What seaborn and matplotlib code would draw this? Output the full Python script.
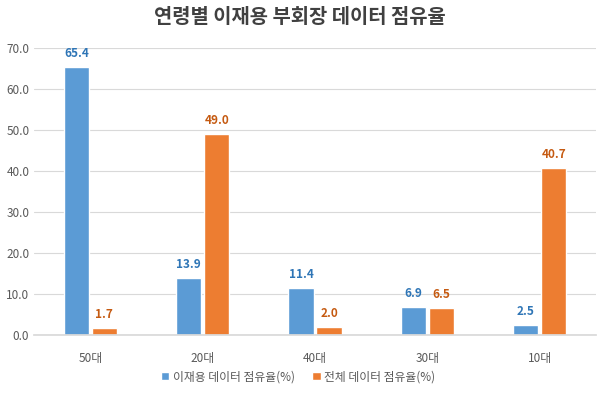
import matplotlib
matplotlib.use("Agg")
import matplotlib.pyplot as plt
import seaborn as sns
import pandas as pd
from matplotlib.ticker import FormatStrFormatter

categories = ["50대", "20대", "40대", "30대", "10대"]
series_names = ["이재용 데이터 점유율(%)", "전체 데이터 점유율(%)"]
lee_values = [65.4, 13.9, 11.4, 6.9, 2.5]
all_values = [1.7, 49.0, 2.0, 6.5, 40.7]
title = "연령별 이재용 부회장 데이터 점유율"

df = pd.DataFrame({
    "age": categories * 2,
    "series": [series_names[0]] * 5 + [series_names[1]] * 5,
    "value": lee_values + all_values,
})

sns.set_theme(style="white")
plt.rcParams["font.family"] = ["Noto Sans CJK KR", "DejaVu Sans"]

bar_colors = ["#5B9BD5", "#ED7D31"]
label_colors = ["#2E75B6", "#C55A11"]

fig = plt.figure(figsize=(6, 3.97), dpi=100)
ax = fig.add_axes([0.057, 0.156, 0.936, 0.723])
sns.barplot(data=df, x="age", y="value", hue="series", order=categories,
            hue_order=series_names, palette=bar_colors, width=0.5, gap=0.1,
            ax=ax, legend=True, saturation=1)

for cont, col in zip(ax.containers, label_colors):
    ax.bar_label(cont, fmt="%.1f", padding=5, color=col, fontsize=8.5,
                 fontweight="bold")

ax.set_ylim(0, 70)
ax.set_yticks(range(0, 71, 10))
ax.yaxis.set_major_formatter(FormatStrFormatter("%.1f"))
ax.grid(axis="y", color="#D9D9D9", linewidth=0.8)
ax.set_axisbelow(True)
for s in ["top", "right", "left"]:
    ax.spines[s].set_visible(False)
ax.spines["bottom"].set_color("#D9D9D9")
ax.tick_params(axis="both", length=0, colors="#595959", labelsize=8.5)
ax.tick_params(axis="x", pad=12)
ax.set_xlabel("")
ax.set_ylabel("")

fig.suptitle(title, x=0.5, y=0.985, fontsize=14.3, fontweight="bold",
             color="#404040")

leg = ax.legend(loc="upper center", bbox_to_anchor=(0.47, -0.085), ncol=2,
                frameon=False, fontsize=8.5, handlelength=0.7, handleheight=0.7,
                columnspacing=1.5, handletextpad=0.3)
for t in leg.get_texts():
    t.set_color("#595959")

fig.savefig("out.png", dpi=100)
